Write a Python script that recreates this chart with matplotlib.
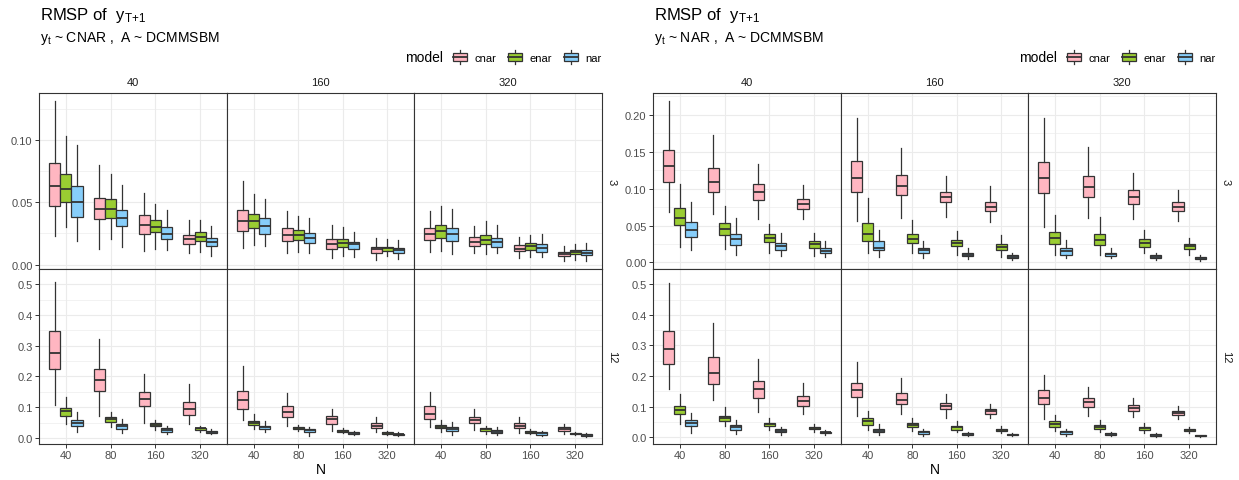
import numpy as np
import matplotlib
matplotlib.use('Agg')
import matplotlib.pyplot as plt
from matplotlib.legend_handler import HandlerBase
from matplotlib.patches import Rectangle, Patch
from matplotlib.lines import Line2D

plt.rcParams['font.family'] = ['Liberation Sans', 'DejaVu Sans']
plt.rcParams['mathtext.fontset'] = 'custom'
plt.rcParams['mathtext.rm'] = 'Liberation Sans'
plt.rcParams['mathtext.it'] = 'Liberation Sans'
plt.rcParams['mathtext.bf'] = 'Liberation Sans:bold'

N_labels = ['40', '80', '160', '320']
T_labels = ['40', '160', '320']
K_labels = ['3', '12']
models = ['cnar', 'enar', 'nar']
colors = ['#FFB6C1', '#9ACD32', '#87CEFA']

# box stats per model: [K][T][N] -> [whislo, q1, med, q3, whishi]
# left chart: y_t ~ CNAR
cnar_cnar = [
    [[[0.0227, 0.0471, 0.0631, 0.0816, 0.1310], [0.0128, 0.0364, 0.0447, 0.0537, 0.0797],
      [0.0112, 0.0243, 0.0318, 0.0396, 0.0575], [0.0091, 0.0163, 0.0206, 0.0241, 0.0358]],
     [[0.0136, 0.0273, 0.0350, 0.0436, 0.0668], [0.0091, 0.0190, 0.0238, 0.0291, 0.0433],
      [0.0056, 0.0126, 0.0166, 0.0203, 0.0316], [0.0040, 0.0094, 0.0123, 0.0142, 0.0217]],
     [[0.0102, 0.0195, 0.0243, 0.0297, 0.0433], [0.0091, 0.0152, 0.0184, 0.0219, 0.0310],
      [0.0051, 0.0107, 0.0128, 0.0155, 0.0225], [0.0029, 0.0072, 0.0088, 0.0104, 0.0147]]],
    [[[0.107, 0.223, 0.276, 0.348, 0.508], [0.071, 0.152, 0.187, 0.223, 0.322],
      [0.0476, 0.1025, 0.127, 0.148, 0.209], [0.0455, 0.074, 0.093, 0.116, 0.175]],
     [[0.057, 0.094, 0.1226, 0.152, 0.2336], [0.038, 0.0687, 0.0846, 0.1025, 0.145],
      [0.022, 0.0455, 0.0613, 0.0708, 0.094], [0.020, 0.0328, 0.039, 0.0486, 0.0677]],
     [[0.037, 0.063, 0.079, 0.1036, 0.149], [0.0254, 0.0476, 0.058, 0.0687, 0.095],
      [0.0159, 0.0328, 0.040, 0.0486, 0.0666], [0.0137, 0.0233, 0.0285, 0.035, 0.0465]]],
]
cnar_enar = [
    [[[0.0305, 0.0503, 0.0602, 0.0727, 0.1032], [0.0203, 0.0374, 0.0449, 0.0524, 0.0727],
      [0.0126, 0.0259, 0.0305, 0.0361, 0.0484], [0.0104, 0.0190, 0.0225, 0.0259, 0.0358]],
     [[0.0160, 0.0291, 0.0350, 0.0404, 0.0567], [0.0102, 0.0201, 0.0241, 0.0278, 0.0390],
      [0.0070, 0.0139, 0.0171, 0.0203, 0.0302], [0.0067, 0.0107, 0.0131, 0.0144, 0.0209]],
     [[0.0110, 0.0217, 0.0270, 0.0318, 0.0468], [0.0088, 0.0163, 0.0201, 0.0238, 0.0353],
      [0.0059, 0.0115, 0.0147, 0.0171, 0.0241], [0.0040, 0.0088, 0.0104, 0.0120, 0.0163]]],
    [[[0.044, 0.072, 0.088, 0.098, 0.133], [0.037, 0.052, 0.060, 0.0666, 0.0835],
      [0.0264, 0.038, 0.0433, 0.0476, 0.058], [0.020, 0.0264, 0.0307, 0.0328, 0.039]],
     [[0.0275, 0.041, 0.0486, 0.055, 0.077], [0.0211, 0.0285, 0.0328, 0.036, 0.041],
      [0.0159, 0.020, 0.0233, 0.0264, 0.0317], [0.0106, 0.0137, 0.0169, 0.018, 0.0211]],
     [[0.020, 0.0307, 0.037, 0.042, 0.058], [0.0137, 0.022, 0.0275, 0.0317, 0.040],
      [0.0116, 0.0159, 0.020, 0.0233, 0.0275], [0.0085, 0.0116, 0.0137, 0.0159, 0.019]]],
]
cnar_nar = [
    [[[0.0187, 0.0380, 0.0503, 0.0628, 0.0955], [0.0144, 0.0310, 0.0377, 0.0441, 0.0636],
      [0.0115, 0.0203, 0.0246, 0.0305, 0.0439], [0.0070, 0.0147, 0.0179, 0.0214, 0.0307]],
     [[0.0152, 0.0249, 0.0313, 0.0372, 0.0529], [0.0096, 0.0171, 0.0211, 0.0254, 0.0374],
      [0.0061, 0.0123, 0.0163, 0.0184, 0.0265], [0.0045, 0.0094, 0.0120, 0.0134, 0.0195]],
     [[0.0083, 0.0190, 0.0243, 0.0297, 0.0444], [0.0091, 0.0144, 0.0179, 0.0214, 0.0318],
      [0.0059, 0.0102, 0.0134, 0.0166, 0.0246], [0.0032, 0.0075, 0.0096, 0.0115, 0.0174]]],
    [[[0.020, 0.039, 0.0497, 0.058, 0.0846], [0.016, 0.030, 0.038, 0.045, 0.062],
      [0.0127, 0.020, 0.0264, 0.0307, 0.040], [0.0116, 0.0159, 0.020, 0.022, 0.0275]],
     [[0.018, 0.0275, 0.0338, 0.039, 0.056], [0.0074, 0.019, 0.0254, 0.0296, 0.035],
      [0.0095, 0.0127, 0.0159, 0.019, 0.022], [0.0063, 0.0095, 0.0116, 0.0137, 0.018]],
     [[0.0106, 0.022, 0.0296, 0.036, 0.052], [0.0095, 0.0148, 0.019, 0.0243, 0.035],
      [0.0074, 0.0106, 0.0148, 0.018, 0.0233], [0.0042, 0.0074, 0.0095, 0.0116, 0.0159]]],
]
# right chart: y_t ~ NAR
nar_cnar = [
    [[[0.068, 0.1088, 0.1305, 0.1526, 0.218], [0.065, 0.0953, 0.1093, 0.1278, 0.1725],
      [0.0591, 0.084, 0.0957, 0.1056, 0.1336], [0.0582, 0.0718, 0.0786, 0.0853, 0.1047]],
     [[0.056, 0.0957, 0.1142, 0.1368, 0.195], [0.0596, 0.0912, 0.1029, 0.1178, 0.1544],
      [0.061, 0.0813, 0.0885, 0.0957, 0.1165], [0.0542, 0.0691, 0.075, 0.0822, 0.1034]],
     [[0.0474, 0.0935, 0.1142, 0.1354, 0.195], [0.0605, 0.0889, 0.1016, 0.1165, 0.1558],
      [0.0591, 0.079, 0.0889, 0.098, 0.121], [0.0555, 0.0691, 0.0749, 0.0813, 0.0975]]],
    [[[0.157, 0.238, 0.289, 0.346, 0.504], [0.122, 0.174, 0.209, 0.261, 0.373],
      [0.082, 0.128, 0.158, 0.183, 0.256], [0.0758, 0.103, 0.118, 0.134, 0.178]],
     [[0.0705, 0.132, 0.154, 0.178, 0.245], [0.077, 0.108, 0.123, 0.144, 0.193],
      [0.064, 0.0916, 0.102, 0.1126, 0.141], [0.062, 0.0768, 0.0863, 0.0937, 0.1095]],
     [[0.059, 0.108, 0.128, 0.153, 0.203], [0.0684, 0.098, 0.114, 0.127, 0.165],
      [0.0663, 0.0874, 0.0958, 0.104, 0.128], [0.059, 0.0716, 0.080, 0.0863, 0.103]]],
]
nar_enar = [
    [[[0.0208, 0.0506, 0.0605, 0.0731, 0.106], [0.0185, 0.0366, 0.0451, 0.0528, 0.0763],
      [0.0135, 0.0271, 0.033, 0.0379, 0.0519], [0.009, 0.0194, 0.0244, 0.0284, 0.0397]],
     [[0.0135, 0.0289, 0.0384, 0.0537, 0.0867], [0.0122, 0.0257, 0.032, 0.0384, 0.0573],
      [0.0108, 0.0217, 0.0257, 0.0302, 0.0424], [0.0077, 0.0172, 0.0212, 0.0248, 0.0366]],
     [[0.0095, 0.0244, 0.0325, 0.0406, 0.0637], [0.0108, 0.0235, 0.0307, 0.0388, 0.061],
      [0.0126, 0.0208, 0.0262, 0.0312, 0.0433], [0.0095, 0.0181, 0.0217, 0.0248, 0.0334]]],
    [[[0.043, 0.075, 0.088, 0.103, 0.141], [0.0368, 0.0526, 0.062, 0.0705, 0.098],
      [0.0253, 0.0368, 0.043, 0.048, 0.064], [0.0179, 0.0274, 0.0316, 0.0347, 0.044]],
     [[0.023, 0.040, 0.0547, 0.062, 0.0874], [0.021, 0.0337, 0.040, 0.0463, 0.063],
      [0.0168, 0.0253, 0.0326, 0.0368, 0.0516], [0.0137, 0.020, 0.0253, 0.0284, 0.0368]],
     [[0.021, 0.0337, 0.043, 0.0516, 0.0737], [0.0168, 0.0284, 0.0347, 0.041, 0.0558],
      [0.0137, 0.023, 0.0295, 0.0347, 0.0463], [0.0126, 0.019, 0.023, 0.0263, 0.0326]]],
]
nar_nar = [
    [[[0.0167, 0.0348, 0.0442, 0.055, 0.082], [0.0095, 0.0239, 0.0312, 0.0388, 0.0605],
      [0.009, 0.0172, 0.0217, 0.0257, 0.0393], [0.0068, 0.0126, 0.0158, 0.019, 0.0284]],
     [[0.0068, 0.0172, 0.0199, 0.0284, 0.0438], [0.0059, 0.0126, 0.0167, 0.019, 0.0284],
      [0.0041, 0.0086, 0.0108, 0.0131, 0.0194], [0.0027, 0.0063, 0.0081, 0.0095, 0.0131]],
     [[0.0054, 0.0108, 0.0153, 0.0194, 0.0302], [0.0054, 0.009, 0.0117, 0.0135, 0.019],
      [0.0032, 0.0059, 0.0081, 0.0099, 0.0126], [0.0023, 0.0041, 0.0054, 0.0068, 0.0095]]],
    [[[0.0137, 0.038, 0.047, 0.0558, 0.080], [0.0116, 0.0253, 0.0326, 0.040, 0.058],
      [0.0084, 0.0168, 0.0221, 0.0263, 0.0326], [0.0074, 0.0126, 0.0158, 0.0179, 0.0253]],
     [[0.0074, 0.0158, 0.0221, 0.0274, 0.043], [0.0053, 0.0116, 0.0158, 0.020, 0.0274],
      [0.0042, 0.0074, 0.0105, 0.0126, 0.0179], [0.0032, 0.0063, 0.0084, 0.0105, 0.0147]],
     [[0.0053, 0.0105, 0.0158, 0.020, 0.0274], [0.0053, 0.0084, 0.0116, 0.0137, 0.0168],
      [0.0021, 0.0053, 0.0084, 0.0105, 0.0137], [0.001, 0.0032, 0.0053, 0.0063, 0.0084]]],
]

W, H = 1239, 481
fig = plt.figure(figsize=(W / 100, H / 100), dpi=100)
DARK = '#333333'


def ftext(x, y, s, **kw):
    return fig.text(x / W, 1 - y / H, s, **kw)


class BoxKey(HandlerBase):
    # little boxplot glyph for legend keys
    def create_artists(self, legend, orig_handle, xdescent, ydescent, width, height, fontsize, trans):
        fc = orig_handle.get_facecolor()
        x0, y0 = -xdescent, -ydescent
        cx = x0 + width / 2
        wl = Line2D([cx, cx], [y0 - 0.05 * height, y0 + 1.05 * height], color=DARK, lw=0.9, transform=trans)
        box = Rectangle((x0 + 0.08 * width, y0 + 0.22 * height), 0.84 * width, 0.56 * height,
                        facecolor=fc, edgecolor=DARK, lw=0.9, transform=trans)
        med = Line2D([x0 + 0.08 * width, x0 + 0.92 * width], [y0 + 0.5 * height] * 2,
                     color=DARK, lw=1.3, transform=trans)
        return [wl, box, med]


panels = [
    dict(xs=[39, 227, 414, 602], data=[cnar_cnar, cnar_enar, cnar_nar],
         ylims=[(-0.0035, 0.1375), (-0.02, 0.5355)],
         yticks=[[0.0, 0.05, 0.10], [0.0, 0.1, 0.2, 0.3, 0.4, 0.5]],
         yfmt=['{:.2f}', '{:.1f}'], sub='CNAR'),
    dict(xs=[653, 841, 1028, 1216], data=[nar_cnar, nar_enar, nar_nar],
         ylims=[(-0.0088, 0.2292), (-0.022, 0.5305)],
         yticks=[[0.0, 0.05, 0.10, 0.15, 0.20], [0.0, 0.1, 0.2, 0.3, 0.4, 0.5]],
         yfmt=['{:.2f}', '{:.1f}'], sub='NAR'),
]
rows_y = [(94, 270), (270, 445)]
xpos = np.arange(1, len(N_labels) + 1)

for p in panels:
    xs = p['xs']
    for r in range(len(K_labels)):
        y0, y1 = rows_y[r]
        for c in range(len(T_labels)):
            x0, x1 = xs[c], xs[c + 1]
            ax = fig.add_axes([x0 / W, 1 - y1 / H, (x1 - x0) / W, (y1 - y0) / H])
            for m in range(len(models)):
                stats = [dict(whislo=s[0], q1=s[1], med=s[2], q3=s[3], whishi=s[4])
                         for s in p['data'][m][r][c]]
                ax.bxp(stats, positions=xpos + (m - 1) * 0.25, widths=0.25,
                       patch_artist=True, showfliers=False, showcaps=False,
                       manage_ticks=False,
                       boxprops=dict(facecolor=colors[m], edgecolor=DARK, linewidth=0.9),
                       whiskerprops=dict(color=DARK, linewidth=0.9),
                       medianprops=dict(color=DARK, linewidth=1.3))
            ax.set_xlim(0.4, 4.6)
            ax.set_ylim(*p['ylims'][r])
            yt = p['yticks'][r]
            ax.set_xticks(xpos)
            ax.set_xticklabels(N_labels)
            ax.set_yticks(yt)
            ax.set_yticklabels([p['yfmt'][r].format(v) for v in yt])
            step = yt[1] - yt[0]
            ax.set_yticks([v + step / 2 for v in yt], minor=True)
            ax.set_axisbelow(True)
            ax.grid(which='major', color='#EBEBEB', lw=0.8)
            ax.grid(which='minor', axis='y', color='#EBEBEB', lw=0.45)
            for sp in ax.spines.values():
                sp.set_color(DARK)
                sp.set_linewidth(0.8)
            ax.tick_params(which='major', color=DARK, length=2.6, width=0.7,
                           labelsize=8, labelcolor='#4D4D4D', pad=2)
            ax.tick_params(which='minor', length=0)
            if c > 0:
                ax.tick_params(axis='y', length=0, labelleft=False)
            if r == 0:
                ax.tick_params(axis='x', length=0, labelbottom=False)
                ftext((x0 + x1) / 2, 83, T_labels[c], ha='center', va='center',
                      fontsize=8, color='#1A1A1A')
            if c == len(T_labels) - 1:
                ftext(x1 + 10, (y0 + y1) / 2, K_labels[r], ha='center', va='center',
                      rotation=-90, fontsize=8, color='#1A1A1A')

    left, right = xs[0], xs[-1]
    ftext(left + 1, 20, r'RMSP of  $\mathrm{y}_{\mathrm{T{+}1}}$', fontsize=12, va='baseline')
    ftext(left + 1, 42, r'$\mathrm{y}_{\mathrm{t}}$ ~ ' + p['sub'] + ' ,  A ~ DCMMSBM',
          fontsize=10, va='baseline')
    ftext((left + right) / 2, 470, 'N', ha='center', va='center', fontsize=10)
    handles = [Patch(facecolor=col) for col in colors]
    leg = fig.legend(handles, models, handler_map={Patch: BoxKey()},
                     loc='center right', bbox_to_anchor=(right / W, 1 - 58 / H),
                     ncol=3, frameon=False, fontsize=8, handlelength=1.5, handleheight=1.4,
                     handletextpad=0.6, columnspacing=0.9, borderpad=0, borderaxespad=0)
    fig.canvas.draw()
    bb = leg.get_window_extent(fig.canvas.get_renderer())
    fig.text(bb.x0 / W - 8 / W, 1 - 58 / H, 'model', ha='right', va='center', fontsize=10)

fig.savefig('out.png', dpi=100)
